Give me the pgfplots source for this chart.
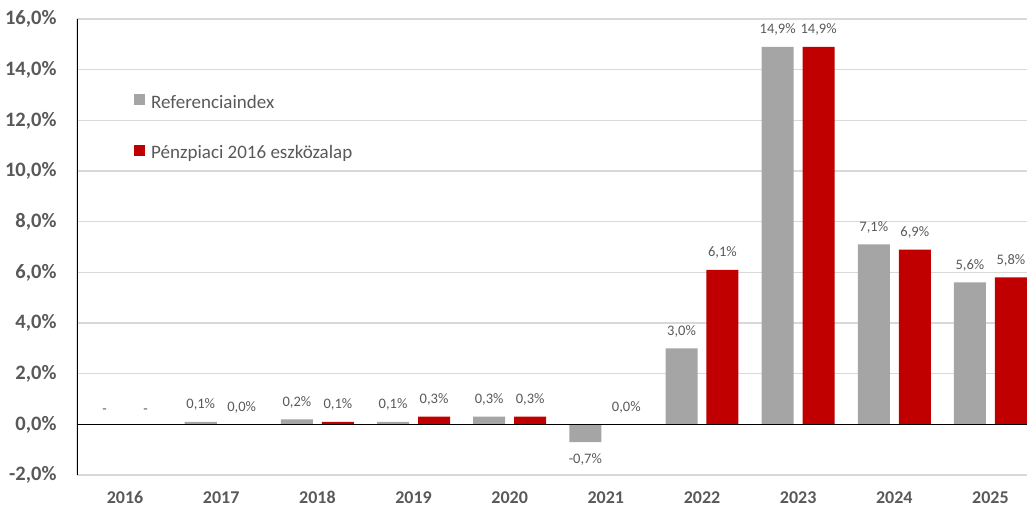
\documentclass[border=0pt]{standalone}
\usepackage{pgfplots}
\pgfplotsset{compat=1.18}
\usepackage{fontspec}
\setmainfont{Carlito}
\definecolor{refgray}{HTML}{A5A5A5}
\definecolor{fundred}{HTML}{C00000}
\definecolor{txt}{HTML}{595959}
\definecolor{gridc}{HTML}{D9D9D9}
\begin{document}
\begin{tikzpicture}
\path[use as bounding box] (-77pt,-34pt) rectangle (950pt,475pt);
\begin{axis}[
    at={(0pt,0pt)}, anchor=south west,
    width=950pt, height=456pt, scale only axis,
    xmin=-0.5, xmax=9.38,
    ymin=-2, ymax=16,
    ytick={-2,0,...,16},
    xtick={0,...,9},
    xticklabels={2016,2017,2018,2019,2020,2021,2022,2023,2024,2025},
    major tick length=0pt,
    axis line style={draw=none},
    ymajorgrids, grid style={gridc, line width=1.2pt},
    /pgf/number format/assume math mode=true,
    yticklabel={\pgfmathprintnumber[fixed,fixed zerofill,precision=1,use comma]{\tick}\%},
    yticklabel style={font=\fontsize{20.5}{22}\selectfont\bfseries, text=txt, xshift=-17pt},
    xticklabel style={font=\fontsize{18}{20}\selectfont\bfseries, text=txt, yshift=-13pt},
    ybar, bar width=0.333,
    nodes near coords={\pgfmathprintnumber[fixed,fixed zerofill,precision=1,use comma]{\pgfplotspointmeta}\%},
    every node near coord/.append style={font=\fontsize{14.5}{16}\selectfont, text=txt, inner ysep=11pt, inner xsep=1pt},
    legend style={at={(0.060,0.838)}, anchor=north west, draw=none, fill=none,
        inner sep=0pt, row sep=32pt, font=\fontsize{19}{21}\selectfont, text=txt,
        cells={anchor=west}},
    clip=true,
]
\addplot[bar shift=-0.213, fill=refgray, draw=none,
    legend image code/.code={\fill[refgray] (0pt,-3pt) rectangle (11pt,8pt); \path (15pt,0pt);}]
    coordinates {(1,0.1) (2,0.2) (3,0.1) (4,0.3) (5,-0.7) (6,3.0) (7,14.9) (8,7.1) (9,5.6)};
\addlegendentry{Referenciaindex}
\addplot[bar shift=0.213, fill=fundred, draw=none,
    legend image code/.code={\fill[fundred] (0pt,-3pt) rectangle (11pt,8pt); \path (15pt,0pt);}]
    coordinates {(1,0.0) (2,0.1) (3,0.3) (4,0.3) (5,0.0) (6,6.1) (7,14.9) (8,6.9) (9,5.8)};
\addlegendentry{Pénzpiaci 2016 eszközalap}
% 2016: no data, only dashes
\addplot[forget plot, bar shift=-0.213, draw=none, fill=none, nodes near coords={-}]
    coordinates {(0,0)};
\addplot[forget plot, bar shift=0.213, draw=none, fill=none, nodes near coords={-}]
    coordinates {(0,0)};
\draw[black, line width=1.3pt] (axis cs:-0.5,0) -- (axis cs:9.38,0);
\draw[black, line width=1.5pt] (axis cs:-0.5,-2) -- (axis cs:-0.5,16);
\end{axis}
\end{tikzpicture}
\end{document}
